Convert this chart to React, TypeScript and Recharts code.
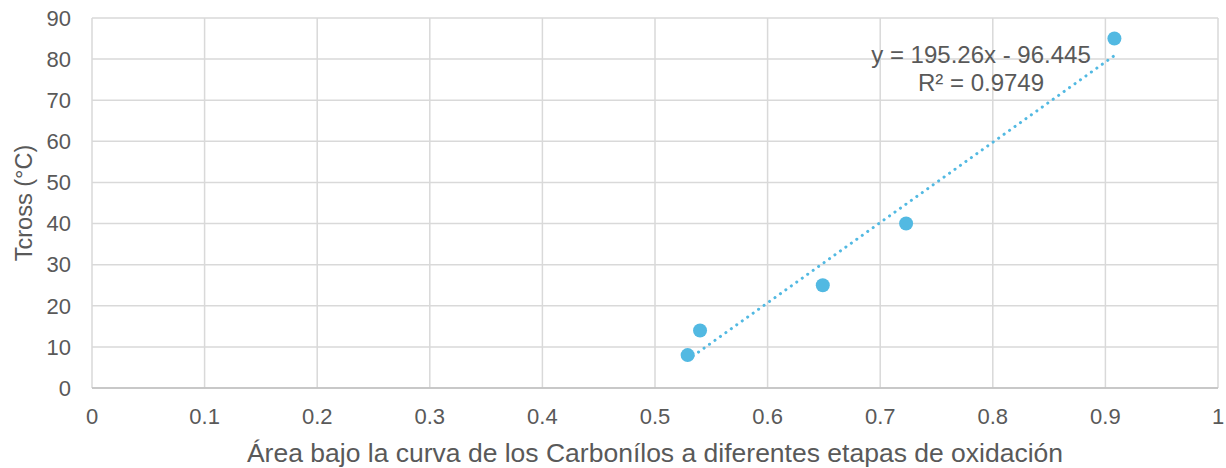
import { ComposedChart, Scatter, Line, XAxis, YAxis, CartesianGrid, Label } from "recharts"

const areaValues = [0.529, 0.54, 0.649, 0.723, 0.908]
const tcrossValues = [8, 14, 25, 40, 85]
const trendX = [0.529, 0.908]
const trendY = [6.85, 80.85]
const xTicks = [0, 0.1, 0.2, 0.3, 0.4, 0.5, 0.6, 0.7, 0.8, 0.9, 1]
const yTicks = [0, 10, 20, 30, 40, 50, 60, 70, 80, 90]

const points = areaValues.map((x, i) => ({ x, y: tcrossValues[i] }))
const trend = trendX.map((x, i) => ({ x, y: trendY[i] }))

const font = "'Liberation Sans', Arial, sans-serif"
const textColor = "#595959"
const blue = "#52b9e2"
const tickSize = 22

const XTick = (p: any) => (
  <text x={p.x} y={p.y} dy="0.71em" textAnchor="middle" fontSize={tickSize} fill={textColor} fontFamily={font}>
    {p.payload.value}
  </text>
)

const YTick = (p: any) => (
  <text x={p.x} y={p.y} dy="0.355em" textAnchor="end" fontSize={tickSize} fill={textColor} fontFamily={font}>
    {p.payload.value}
  </text>
)

export default function App() {
  return (
    <div style={{ position: "relative", width: 1226, height: 468, fontFamily: font, background: "#fff" }}>
      <style>{`body{margin:0}`}</style>
      <ComposedChart width={1226} height={468} margin={{ top: 18, right: 8, bottom: 0, left: 0 }}>
        <CartesianGrid stroke="#d9d9d9" strokeWidth={1.5} />
        <XAxis
          type="number"
          dataKey="x"
          domain={[0, 1]}
          ticks={xTicks}
          height={80}
          tickLine={false}
          axisLine={{ stroke: "#bfbfbf", strokeWidth: 1.5 }}
          tick={XTick}
          tickMargin={14}
          interval={0}
          allowDataOverflow
        >
          <Label
            value="Área bajo la curva de los Carbonílos a diferentes etapas de oxidación"
            position="insideBottom"
            offset={6}
            style={{ fontSize: 26.5, fill: textColor, fontFamily: font }}
          />
        </XAxis>
        <YAxis
          type="number"
          dataKey="y"
          domain={[0, 90]}
          ticks={yTicks}
          width={92}
          tickLine={false}
          axisLine={false}
          tick={YTick}
          tickMargin={15}
          interval={0}
        >
          <Label
            value="Tcross (°C)"
            angle={-90}
            position="insideLeft"
            offset={24}
            style={{ fontSize: 23.5, fill: textColor, fontFamily: font, textAnchor: "middle" }}
          />
        </YAxis>
        <Line
          data={trend}
          dataKey="y"
          type="linear"
          stroke={blue}
          strokeWidth={3}
          strokeDasharray="0.1 6.6"
          strokeLinecap="round"
          dot={false}
          activeDot={false}
          isAnimationActive={false}
        />
        <Scatter data={points} fill={blue} shape={(p: any) => <circle cx={p.cx} cy={p.cy} r={7} fill={blue} />} isAnimationActive={false} />
      </ComposedChart>
      <div
        style={{
          position: "absolute",
          left: 851,
          top: 41,
          width: 260,
          textAlign: "center",
          fontSize: 24,
          lineHeight: "28px",
          color: textColor,
        }}
      >
        <div>y = 195.26x - 96.445</div>
        <div>R² = 0.9749</div>
      </div>
    </div>
  )
}
